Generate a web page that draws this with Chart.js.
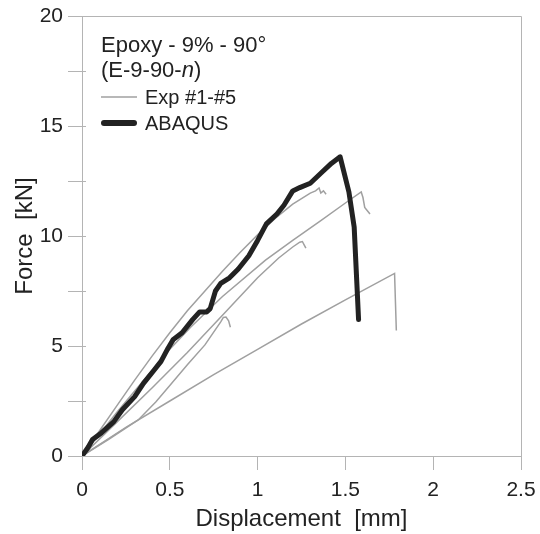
<!DOCTYPE html>
<html>
<head>
<meta charset="utf-8">
<script src="https://cdn.jsdelivr.net/npm/chart.js@4.4.1/dist/chart.umd.min.js"></script>
<style>
  html, body { margin: 0; padding: 0; background: #fff; }
</style>
</head>
<body>
<canvas id="forceChart" width="540" height="534"></canvas>
<script>
// displacement [mm] / force [kN] readings
const abaqusX = [0, 0.035, 0.06, 0.11, 0.18, 0.23, 0.30, 0.35, 0.41, 0.45, 0.49, 0.52, 0.57, 0.63, 0.67, 0.71, 0.73, 0.76, 0.79, 0.84, 0.89, 0.95, 1.0, 1.05, 1.11, 1.15, 1.20, 1.24, 1.30, 1.36, 1.42, 1.47, 1.52, 1.55, 1.575];
const abaqusF = [0, 0.4, 0.75, 1.05, 1.55, 2.1, 2.7, 3.3, 3.9, 4.3, 4.9, 5.3, 5.6, 6.2, 6.55, 6.55, 6.7, 7.5, 7.85, 8.1, 8.5, 9.1, 9.8, 10.55, 11.0, 11.4, 12.05, 12.2, 12.4, 12.85, 13.3, 13.6, 12.0, 10.4, 6.2];

const exp1X = [0, 0.1, 0.2, 0.3, 0.4, 0.5, 0.6, 0.7, 0.8, 0.9, 1.0, 1.1, 1.2, 1.3, 1.33, 1.35, 1.36, 1.375, 1.39];
const exp1F = [0, 1.15, 2.3, 3.45, 4.55, 5.6, 6.6, 7.5, 8.4, 9.25, 10.05, 10.8, 11.45, 11.95, 12.05, 12.18, 11.95, 12.05, 11.9];

const exp2X = [0, 0.1, 0.2, 0.3, 0.4, 0.5, 0.62, 0.8, 1.045, 1.2, 1.36, 1.5, 1.59, 1.6, 1.61, 1.625, 1.64];
const exp2F = [0, 1.0, 2.0, 2.95, 3.9, 4.85, 5.86, 7.25, 8.9, 9.8, 10.7, 11.5, 12.0, 11.75, 11.3, 11.15, 11.0];

const exp3X = [0, 0.2, 0.4, 0.6, 0.8, 1.0, 1.12, 1.2, 1.24, 1.255, 1.265, 1.275];
const exp3F = [0, 1.55, 3.1, 4.7, 6.4, 8.1, 9.0, 9.5, 9.72, 9.75, 9.6, 9.45];

const exp4X = [0, 0.15, 0.32, 0.42, 0.5, 0.6, 0.7, 0.79, 0.805, 0.82, 0.835, 0.845];
const exp4F = [0, 0.75, 1.64, 2.45, 3.2, 4.15, 5.05, 6.1, 6.3, 6.32, 6.15, 5.85];

const exp5X = [0, 0.25, 0.5, 0.75, 1.0, 1.25, 1.5, 1.78, 1.785, 1.79];
const exp5F = [0, 1.3, 2.5, 3.7, 4.85, 6.0, 7.1, 8.3, 7.0, 5.7];

const xTicks = [0, 0.5, 1, 1.5, 2, 2.5];
const yTicks = [0, 5, 10, 15, 20];

const FONT = '"Liberation Sans", Arial, Helvetica, sans-serif';
const TEXT = '#222';
const AXIS = '#b4b4b4';
const GREY = '#a0a0a0';

function toPoints(xs, ys){
    return xs.map((x, i) => ({x: x, y: ys[i]}))
}

function expSet(xs, ys){
    return {
        data: toPoints(xs, ys),
        borderColor: GREY,
        borderWidth: 1.5,
        pointRadius: 0,
        showLine: true,
        tension: 0
    }
}

// box on top/right plus the short inward ticks on the force axis
const framePlugin = {
    id: 'frame',
    afterDatasetsDraw(chart){
        const {ctx, chartArea: a, scales} = chart;
        ctx.save();
        ctx.strokeStyle = AXIS;
        ctx.lineWidth = 1;
        ctx.beginPath();
        ctx.moveTo(a.left, a.top + 0.5);
        ctx.lineTo(a.right + 0.5, a.top + 0.5);
        ctx.lineTo(a.right + 0.5, a.bottom);
        for(const t of scales.y.ticks){
            const py = Math.round(scales.y.getPixelForValue(t.value)) + 0.5;
            ctx.moveTo(a.left, py);
            ctx.lineTo(a.left + 4, py);
        }
        ctx.stroke();
        ctx.restore();
    }
};

const legendPlugin = {
    id: 'noteLegend',
    afterDraw(chart){
        const ctx = chart.ctx;
        ctx.save();
        ctx.fillStyle = TEXT;
        ctx.textBaseline = 'alphabetic';
        ctx.font = '22px ' + FONT;
        ctx.fillText('Epoxy - 9% - 90°', 101, 52);
        let x = 101;
        const head = '(E-9-90-';
        ctx.fillText(head, x, 77);
        x += ctx.measureText(head).width;
        ctx.font = 'italic 22px ' + FONT;
        ctx.fillText('n', x, 77);
        x += ctx.measureText('n').width;
        ctx.font = '22px ' + FONT;
        ctx.fillText(')', x, 77);

        ctx.strokeStyle = GREY;
        ctx.lineWidth = 1.5;
        ctx.beginPath();
        ctx.moveTo(101, 97);
        ctx.lineTo(137, 97);
        ctx.stroke();

        ctx.strokeStyle = TEXT;
        ctx.lineWidth = 6;
        ctx.lineCap = 'round';
        ctx.beginPath();
        ctx.moveTo(104, 123);
        ctx.lineTo(134, 123);
        ctx.stroke();

        ctx.font = '20px ' + FONT;
        ctx.fillText('Exp #1-#5', 145, 104);
        ctx.fillText('ABAQUS', 145, 130);
        ctx.restore();
    }
};

const chart = new Chart(document.getElementById('forceChart'), {
    type: 'scatter',
    data: {
        datasets: [
            {
                data: toPoints(abaqusX, abaqusF),
                borderColor: TEXT,
                borderWidth: 5,
                borderJoinStyle: 'round',
                borderCapStyle: 'round',
                pointRadius: 0,
                showLine: true,
                tension: 0
            },
            expSet(exp1X, exp1F),
            expSet(exp2X, exp2F),
            expSet(exp3X, exp3F),
            expSet(exp4X, exp4F),
            expSet(exp5X, exp5F)
        ]
    },
    options: {
        responsive: false,
        devicePixelRatio: 1,
        animation: false,
        layout: {padding: {top: 16, right: 19, bottom: 0, left: 0}},
        plugins: {legend: {display: false}, tooltip: {enabled: false}},
        scales: {
            x: {
                type: 'linear',
                min: 0,
                max: 2.5,
                afterBuildTicks: (s) => { s.ticks = xTicks.map(v => ({value: v})) },
                ticks: {
                    color: TEXT,
                    font: {family: FONT, size: 21},
                    padding: 8,
                    callback: (v) => String(v)
                },
                grid: {drawOnChartArea: false, tickLength: 14, color: AXIS},
                border: {color: AXIS},
                title: {display: true, text: 'Displacement  [mm]', color: TEXT,
                        font: {family: FONT, size: 24}, padding: {top: 0, bottom: 0}},
                afterFit: (s) => { s.height = 78; s.paddingLeft = 0; s.paddingRight = 0 }
            },
            y: {
                type: 'linear',
                min: 0,
                max: 20,
                ticks: {
                    stepSize: 2.5,
                    color: TEXT,
                    font: {family: FONT, size: 21},
                    padding: 5,
                    callback: (v) => yTicks.includes(v) ? String(v) : ''
                },
                grid: {drawOnChartArea: false, tickLength: 14, color: AXIS},
                border: {color: AXIS},
                title: {display: true, text: 'Force  [kN]', color: TEXT,
                        font: {family: FONT, size: 24}, padding: {top: 11, bottom: 0}},
                afterFit: (s) => { s.width = 82; s.paddingTop = 0; s.paddingBottom = 0 }
            }
        }
    },
    plugins: [framePlugin, legendPlugin]
});
</script>
</body>
</html>
